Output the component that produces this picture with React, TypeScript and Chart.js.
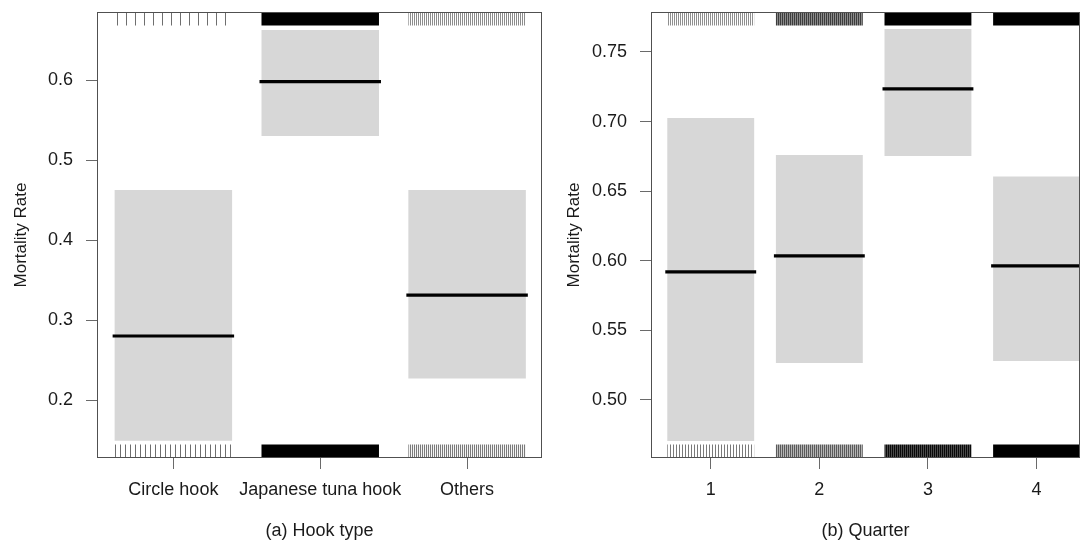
import React, { useEffect, useRef } from "react";
import { Chart, registerables } from "chart.js";

Chart.register(...registerables);

// ---------- data ----------
const hookTypes = ["Circle hook", "Japanese tuna hook", "Others"];
const hookEstimate = [0.28, 0.598, 0.331];
const hookLower = [0.149, 0.53, 0.227];
const hookUpper = [0.4625, 0.6625, 0.4625];
const hookYTicks = [0.2, 0.3, 0.4, 0.5, 0.6];

const quarters = ["1", "2", "3", "4"];
const quarterEstimate = [0.592, 0.6035, 0.7235, 0.5963];
const quarterLower = [0.4705, 0.5265, 0.6753, 0.528];
const quarterUpper = [0.7026, 0.676, 0.7665, 0.6605];
const quarterYTicks = [0.5, 0.55, 0.6, 0.65, 0.7, 0.75];

// rug appearance per category: [stripe period, line colour, gap colour] or solid colour
type RugStyle = string | [number, string, string];
const hookRugTop: RugStyle[] = [[9, "#6e6e6e", "#ffffff"], "#000000", [2, "#8c8c8c", "#ffffff"]];
const hookRugBottom: RugStyle[] = [[5, "#6e6e6e", "#ffffff"], "#000000", [2, "#7a7a7a", "#f4f4f4"]];
const quarterRugTop: RugStyle[] = [[2, "#8f8f8f", "#ffffff"], [2, "#3c3c3c", "#8a8a8a"], "#000000", "#000000"];
const quarterRugBottom: RugStyle[] = [[3, "#7a7a7a", "#ffffff"], [2, "#5a5a5a", "#b4b4b4"], [2, "#0a0a0a", "#4a4a4a"], "#000000"];

const FONT = "'Liberation Sans', Arial, Helvetica, sans-serif";

function makeFill(style: RugStyle): any {
  if (typeof style === "string") return style;
  const [period, line, gap] = style;
  const c = document.createElement("canvas");
  c.width = period;
  c.height = 4;
  const g = c.getContext("2d")!;
  g.fillStyle = gap;
  g.fillRect(0, 0, period, 4);
  g.fillStyle = line;
  g.fillRect(0, 0, 1, 4);
  return g.createPattern(c, "repeat");
}

const boxPlugin = {
  id: "plotBox",
  afterDraw(chart: any) {
    const { ctx, chartArea: a } = chart;
    ctx.save();
    ctx.strokeStyle = "#505050";
    ctx.lineWidth = 1;
    ctx.strokeRect(Math.round(a.left) + 0.5, Math.round(a.top) + 0.5, Math.round(a.right - a.left) - 1, Math.round(a.bottom - a.top) - 1);
    ctx.restore();
  },
};

interface PanelCfg {
  labels: string[];
  est: number[];
  lo: number[];
  hi: number[];
  yTicks: number[];
  decimals: number;
  yMin: number;
  yMax: number;
  xMin: number;
  xMax: number;
  xTitle: string;
  yAxisWidth: number;
  yTitlePad: number;
  padRight: number;
  rugTop: RugStyle[];
  rugBottom: RugStyle[];
}

const hookPanel: PanelCfg = {
  labels: hookTypes,
  est: hookEstimate,
  lo: hookLower,
  hi: hookUpper,
  yTicks: hookYTicks,
  decimals: 1,
  yMin: 0.1275,
  yMax: 0.685,
  xMin: 0.48,
  xMax: 3.51,
  xTitle: "(a) Hook type",
  yAxisWidth: 97,
  yTitlePad: 11,
  padRight: 2,
  rugTop: hookRugTop,
  rugBottom: hookRugBottom,
};

const quarterPanel: PanelCfg = {
  labels: quarters,
  est: quarterEstimate,
  lo: quarterLower,
  hi: quarterUpper,
  yTicks: quarterYTicks,
  decimals: 2,
  yMin: 0.4583,
  yMax: 0.7787,
  xMin: 0.45,
  xMax: 4.4,
  xTitle: "(b) Quarter",
  yAxisWidth: 107,
  yTitlePad: 20,
  padRight: 8,
  rugTop: quarterRugTop,
  rugBottom: quarterRugBottom,
};

function Panel({ cfg, left }: { cfg: PanelCfg; left: number }) {
  const ref = useRef<HTMLCanvasElement>(null);
  useEffect(() => {
    const canvas = ref.current!;
    const xs = cfg.labels.map((_, i) => i + 1);
    const rugH = 0.03 * (cfg.yMax - cfg.yMin);
    const barCommon = {
      type: "bar" as const,
      grouped: false,
      barPercentage: 0.8,
      categoryPercentage: 1,
      borderWidth: 0,
    };
    const chart = new Chart(canvas, {
      type: "bar",
      data: {
        datasets: [
          {
            type: "line",
            data: xs.map((x, i) => ({ x, y: cfg.est[i] })),
            showLine: false,
            pointStyle: "line",
            pointRadius: (ctx: any) => {
              const s = ctx.chart.scales.x;
              return Math.abs(s.getPixelForValue(2) - s.getPixelForValue(1)) * 0.4 + 2;
            },
            pointBorderWidth: 3.2,
            pointBorderColor: "#000000",
            pointBackgroundColor: "#000000",
            order: 0,
          } as any,
          {
            ...barCommon,
            data: xs.map((x) => ({ x, y: [cfg.yMax - rugH, cfg.yMax] })),
            backgroundColor: cfg.rugTop.map(makeFill),
            order: 1,
          } as any,
          {
            ...barCommon,
            data: xs.map((x) => ({ x, y: [cfg.yMin, cfg.yMin + rugH] })),
            backgroundColor: cfg.rugBottom.map(makeFill),
            order: 1,
          } as any,
          {
            ...barCommon,
            data: xs.map((x, i) => ({ x, y: [cfg.lo[i], cfg.hi[i]] })),
            backgroundColor: "#d7d7d7",
            order: 2,
          } as any,
        ],
      },
      options: {
        responsive: false,
        maintainAspectRatio: false,
        animation: false,
        events: [],
        devicePixelRatio: 1,
        layout: { padding: { top: 12, right: cfg.padRight, left: 0, bottom: 0 } },
        plugins: { legend: { display: false }, tooltip: { enabled: false } },
        scales: {
          x: {
            type: "linear",
            min: cfg.xMin,
            max: cfg.xMax,
            offset: false,
            afterBuildTicks: (s: any) => {
              s.ticks = xs.map((v) => ({ value: v }));
            },
            afterFit: (s: any) => {
              s.height = 86;
              s.paddingLeft = 0;
              s.paddingRight = 0;
            },
            grid: { offset: false, drawOnChartArea: false, drawTicks: true, tickLength: 11, color: "#6a6a6a", lineWidth: 1 },
            border: { display: false },
            ticks: {
              padding: 10,
              maxRotation: 0,
              autoSkip: false,
              color: "#1a1a1a",
              font: { family: FONT, size: 18 },
              callback: (v: any) => cfg.labels[Math.round(Number(v)) - 1],
            },
            title: {
              display: true,
              text: cfg.xTitle,
              color: "#1a1a1a",
              font: { family: FONT, size: 18 },
              padding: { top: 0, bottom: 2 },
            },
          },
          y: {
            type: "linear",
            min: cfg.yMin,
            max: cfg.yMax,
            afterBuildTicks: (s: any) => {
              s.ticks = cfg.yTicks.map((v) => ({ value: v }));
            },
            afterFit: (s: any) => {
              s.width = cfg.yAxisWidth;
              s.paddingTop = 0;
              s.paddingBottom = 0;
            },
            grid: { drawOnChartArea: false, drawTicks: true, tickLength: 11, color: "#6a6a6a", lineWidth: 1 },
            border: { display: false },
            ticks: {
              padding: 13,
              color: "#1a1a1a",
              font: { family: FONT, size: 18 },
              callback: (v: any) => Number(v).toFixed(cfg.decimals),
            },
            title: {
              display: true,
              text: "Mortality Rate",
              color: "#1a1a1a",
              font: { family: FONT, size: 17 },
              padding: { top: cfg.yTitlePad, bottom: 0 },
            },
          },
        },
      } as any,
      plugins: [boxPlugin],
    });
    return () => chart.destroy();
  }, []);
  return (
    <div style={{ position: "absolute", left, top: 0, width: 544, height: 544 }}>
      <canvas ref={ref} width={544} height={544} style={{ display: "block", width: 544, height: 544 }} />
    </div>
  );
}

export default function App() {
  return (
    <div style={{ position: "fixed", left: 0, top: 0, width: 1088, height: 544, background: "#ffffff", overflow: "hidden" }}>
      <Panel cfg={hookPanel} left={0} />
      <Panel cfg={quarterPanel} left={544} />
    </div>
  );
}
